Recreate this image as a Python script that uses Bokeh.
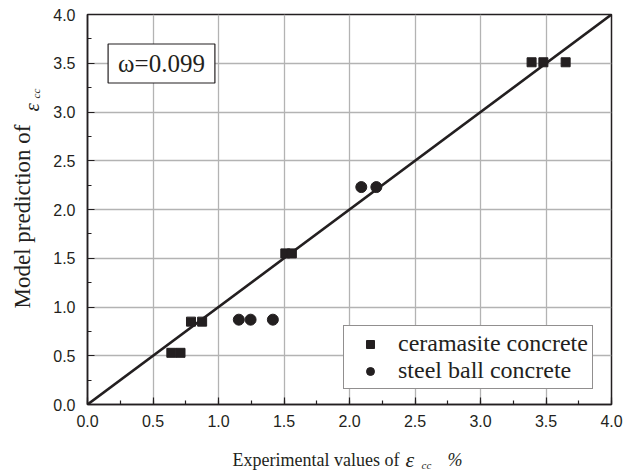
import math

from bokeh.embed import file_html
from bokeh.layouts import column, row
from bokeh.models import (ColumnDataSource, Label, Legend, LegendItem, PrintfTickFormatter,
                          Range1d, SingleIntervalTicker)
from bokeh.plotting import figure
from bokeh.resources import INLINE

# Experimental vs. model-predicted strain values (%)
ceramasite_exp = [0.64, 0.71, 0.79, 0.875, 1.51, 1.56, 3.39, 3.48, 3.65]
ceramasite_pred = [0.53, 0.53, 0.85, 0.85, 1.55, 1.55, 3.51, 3.51, 3.51]

steel_exp = [1.155, 1.245, 1.415, 2.09, 2.205]
steel_pred = [0.87, 0.87, 0.87, 2.23, 2.23]

# line of equality
equality_x = [0.0, 4.0]
equality_y = [0.0, 4.0]

omega_text = "ω=0.099"

INK = "#231f20"
SERIF = "Liberation Serif"
SANS = "Liberation Sans"

W, H = 624, 473
YLAB_W = 46      # strip holding the vertical axis title
XLAB_H = 33      # strip holding the horizontal axis title
LEFT = 41        # space between the title strip and the frame

p = figure(
    width=W - YLAB_W, height=H - XLAB_H,
    x_range=Range1d(0, 4), y_range=Range1d(0, 4),
    output_backend="svg", toolbar_location=None,
    min_border_left=LEFT, min_border_right=13, min_border_top=14, min_border_bottom=36,
)
p.background_fill_color = "white"
p.border_fill_color = "white"
p.outline_line_color = INK
p.outline_line_width = 1.5

for ax in (p.xaxis[0], p.yaxis[0]):
    ax.ticker = SingleIntervalTicker(interval=0.5, num_minor_ticks=2)
    ax.formatter = PrintfTickFormatter(format="%.1f")
    ax.axis_line_color = INK
    ax.axis_line_width = 1.5
    ax.major_tick_in = 7
    ax.major_tick_out = 0
    ax.minor_tick_in = 4
    ax.minor_tick_out = 0
    ax.major_tick_line_color = INK
    ax.minor_tick_line_color = INK
    ax.major_tick_line_width = 1.2
    ax.minor_tick_line_width = 1.2
    ax.major_label_text_font = SANS
    ax.major_label_text_font_size = "16px"
    ax.major_label_text_color = INK
    ax.axis_label = None

p.xaxis[0].major_label_standoff = 10
p.yaxis[0].major_label_standoff = 12

for g in (p.xgrid[0], p.ygrid[0]):
    g.ticker = SingleIntervalTicker(interval=0.5)
    g.grid_line_color = "#b3b3b3"
    g.grid_line_width = 1.3

p.line(equality_x, equality_y, line_color=INK, line_width=2.6)

src_c = ColumnDataSource(dict(x=ceramasite_exp, y=ceramasite_pred))
src_s = ColumnDataSource(dict(x=steel_exp, y=steel_pred))
r_c = p.scatter("x", "y", source=src_c, marker="square", size=9, fill_color=INK, line_color=INK)
r_s = p.scatter("x", "y", source=src_s, marker="circle", size=11, fill_color=INK, line_color=INK)

legend = Legend(
    items=[LegendItem(label="ceramasite concrete", renderers=[r_c]),
           LegendItem(label="steel ball concrete", renderers=[r_s])],
    location=(256, 15),
    padding=4, spacing=0, margin=0,
    glyph_width=44, glyph_height=20, label_height=20, label_standoff=6,
    label_text_font=SERIF, label_text_font_size="24px", label_text_color=INK,
    border_line_color=INK, border_line_width=1.2,
    background_fill_color="white", background_fill_alpha=1.0,
)
p.add_layout(legend, "center")

# omega annotation box
p.add_layout(Label(
    x=0, y=4, x_offset=74, y_offset=-49, text=omega_text,
    text_font=SERIF, text_font_size="25px", text_color=INK,
    text_align="center", text_baseline="middle",
    padding=(10, 6),
    border_line_color=INK, border_line_width=1.2,
    background_fill_color="white",
))


def strip(width, height, x_range, y_range):
    f = figure(width=width, height=height, x_range=x_range, y_range=y_range,
               output_backend="svg", toolbar_location=None, min_border=0)
    f.axis.visible = False
    f.grid.visible = False
    f.outline_line_color = None
    f.background_fill_color = "white"
    f.border_fill_color = "white"
    return f


def piece(f, text, xo, yo, size, style="normal", angle=0.0):
    # pixel offsets from the strip's data origin
    f.add_layout(Label(
        x=0, y=0, x_offset=xo, y_offset=yo, text=text, angle=angle,
        text_font=SERIF, text_font_size=size, text_font_style=style,
        text_color=INK, text_align="left", text_baseline="alphabetic",
    ))


# horizontal axis title: "Experimental values of ε_cc %"
# (shares the plot's x range, so offsets are measured from x = 0 of the plot)
xt = strip(W - YLAB_W, XLAB_H, p.x_range, Range1d(0, XLAB_H))
piece(xt, "Experimental values of", 145, 14, "18px")
piece(xt, "ε", 318, 14, "22px", "italic")
piece(xt, "cc", 334, 9, "11px", "italic")
piece(xt, "%", 360, 14, "18px", "italic")

# vertical axis title: "Model prediction of ε_cc" (x offsets are canvas pixels)
yt = strip(YLAB_W, H, Range1d(0, YLAB_W), Range1d(0, H))
ang = math.pi / 2
piece(yt, "Model prediction of", 22, 165, "23px", angle=ang)
piece(yt, "ε", 31, 362, "21px", "italic", angle=ang)
piece(yt, "cc", 35, 375, "11px", "italic", angle=ang)

layout = row(yt, column(p, xt, spacing=0), spacing=0)

open("out.html", "w").write(file_html(layout, INLINE))
